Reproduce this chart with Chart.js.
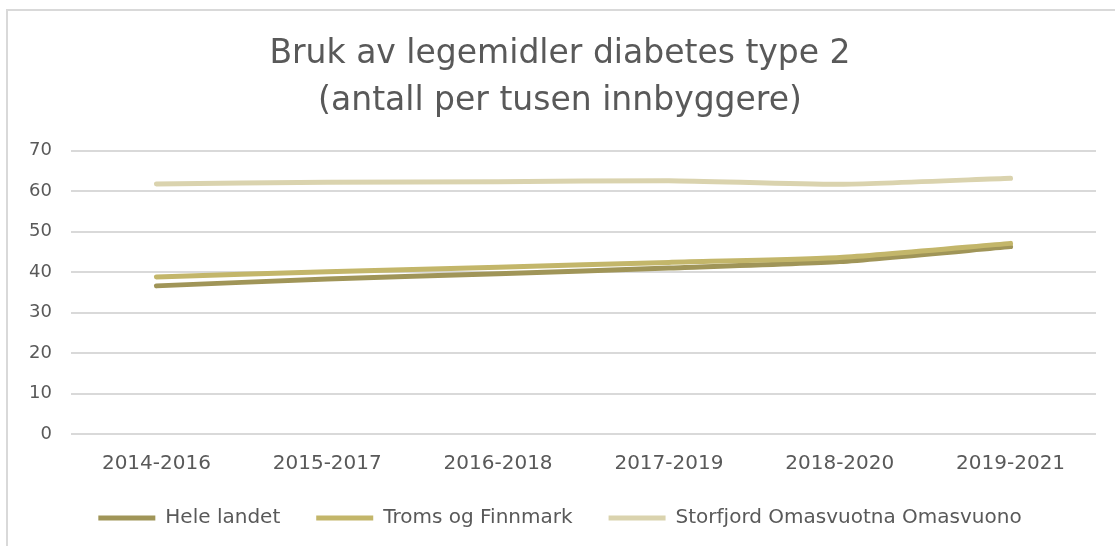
<!DOCTYPE html>
<html>
<head>
<meta charset="utf-8">
<script src="https://cdn.jsdelivr.net/npm/chart.js@4.4.1/dist/chart.umd.min.js"></script>
<style>
    html, body { margin: 0; padding: 0; background: #fff; overflow: hidden; width: 1115px; height: 546px; }
    .edge { position: absolute; background: #d9d9d9; }
    #edge-top { left: 6px; top: 9px; width: 1109px; height: 2px; }
    #edge-left { left: 6px; top: 9px; width: 2px; height: 537px; }
    #wrap { position: absolute; left: 0; top: 0; width: 1115px; height: 546px; }
</style>
</head>
<body>
<div class="edge" id="edge-top"></div>
<div class="edge" id="edge-left"></div>
<div id="wrap"><canvas id="chart" width="1115" height="546"></canvas></div>
<script>
const periods = ['2014-2016', '2015-2017', '2016-2018', '2017-2019', '2018-2020', '2019-2021'];
const heleLandet = [36.6, 38.3, 39.6, 41.0, 42.6, 46.3];
const tromsOgFinnmark = [38.8, 40.1, 41.2, 42.4, 43.6, 47.1];
const storfjord = [61.8, 62.2, 62.3, 62.6, 61.7, 63.2];
const yTicks = [0, 10, 20, 30, 40, 50, 60, 70];

const TEXT_COLOR = '#595959';
const GRID_COLOR = '#d9d9d9';

function makeSeries(label, values, color, order) {
    return {
        label: label,
        data: values,
        borderColor: color,
        backgroundColor: color,
        borderWidth: 5,
        borderCapStyle: 'round',
        borderJoinStyle: 'round',
        pointRadius: 0,
        pointHoverRadius: 0,
        tension: 0.2,
        fill: false,
        order: order,
    };
}

const ctx = document.getElementById('chart').getContext('2d');

new Chart(ctx, {
    type: 'line',
    data: {
        labels: periods,
        datasets: [
            makeSeries('Hele landet', heleLandet, '#a09558', 3),
            makeSeries('Troms og Finnmark', tromsOgFinnmark, '#c3b66a', 2),
            makeSeries('Storfjord Omasvuotna Omasvuono', storfjord, '#dad3ae', 1),
        ],
    },
    options: {
        responsive: false,
        animation: false,
        layout: {
            padding: { left: 24, right: 19, top: 0, bottom: 8 },
        },
        scales: {
            x: {
                offset: true,
                afterFit: (scale) => { scale.height = 38; },
                grid: { display: false, drawTicks: false },
                border: { display: false },
                ticks: {
                    color: TEXT_COLOR,
                    font: { family: 'DejaVu Sans', size: 20 },
                    padding: 18,
                    maxRotation: 0,
                },
            },
            y: {
                min: 0,
                max: 70,
                afterFit: (scale) => { scale.width = 47; },
                afterBuildTicks: (scale) => { scale.ticks = yTicks.map(v => ({ value: v })); },
                grid: { color: GRID_COLOR, lineWidth: 2, drawTicks: false },
                border: { display: false },
                ticks: {
                    color: TEXT_COLOR,
                    font: { family: 'DejaVu Sans', size: 18 },
                    padding: 19,
                },
            },
        },
        plugins: {
            title: {
                display: true,
                text: ['Bruk av legemidler diabetes type 2', '(antall per tusen innbyggere)'],
                color: TEXT_COLOR,
                font: { family: 'DejaVu Sans', size: 33, weight: 'normal', lineHeight: 1.45 },
                padding: { top: 30, bottom: 25 },
            },
            legend: {
                position: 'bottom',
                labels: {
                    color: TEXT_COLOR,
                    font: { family: 'DejaVu Sans', size: 20 },
                    usePointStyle: true,
                    pointStyle: 'line',
                    pointStyleWidth: 57,
                    padding: 36,
                    sort: (a, b) => a.datasetIndex - b.datasetIndex,
                },
            },
            tooltip: { enabled: false },
        },
    },
});
</script>
</body>
</html>
